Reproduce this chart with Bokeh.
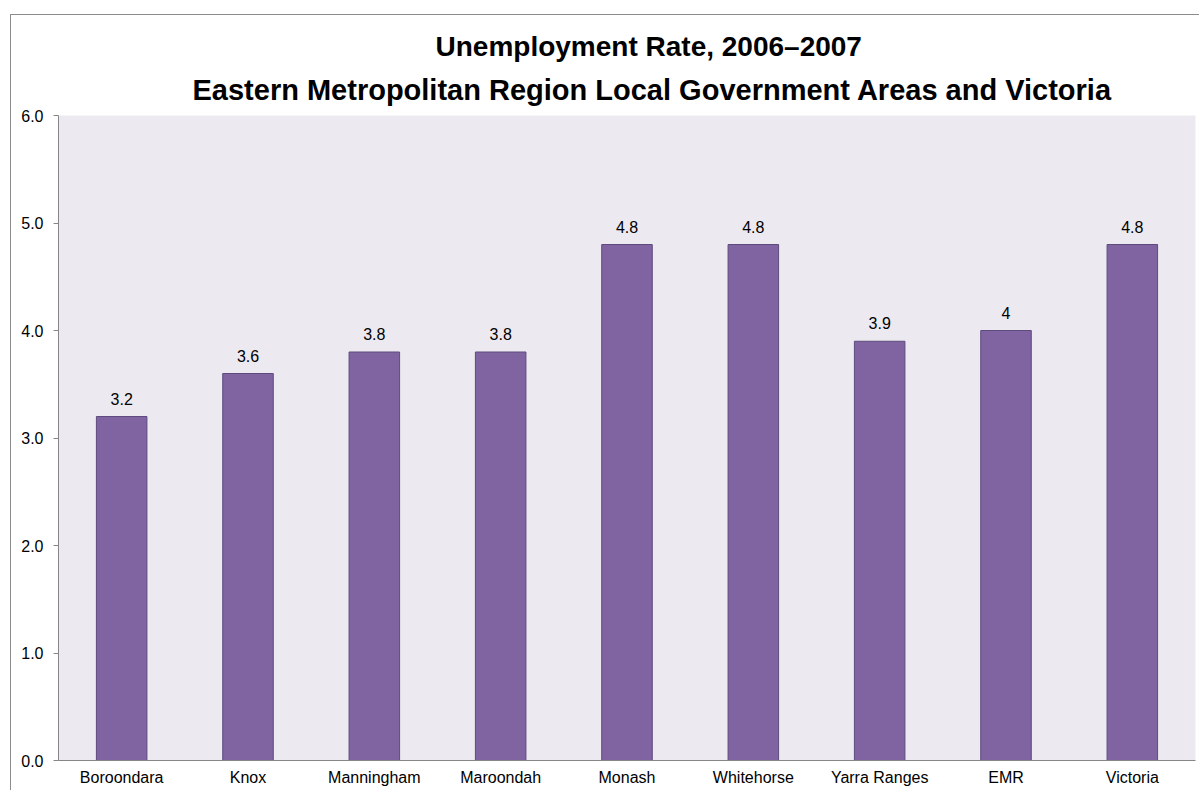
from bokeh.plotting import figure
from bokeh.models import (ColumnDataSource, Title, FixedTicker,
                          NumeralTickFormatter, Range1d)
from bokeh.core.properties import value
from bokeh.embed import file_html
from bokeh.resources import INLINE

categories = ["Boroondara", "Knox", "Manningham", "Maroondah", "Monash",
              "Whitehorse", "Yarra Ranges", "EMR", "Victoria"]
rates = [3.2, 3.6, 3.8, 3.8, 4.8, 4.8, 3.9, 4.0, 4.8]
rate_labels = ["3.2", "3.6", "3.8", "3.8", "4.8", "4.8", "3.9", "4", "4.8"]
y_ticks = [0, 1, 2, 3, 4, 5, 6]
title_line1 = "Unemployment Rate, 2006\u20132007"
title_line2 = "Eastern Metropolitan Region Local Government Areas and Victoria"

FONT = "Liberation Sans"

src = ColumnDataSource(dict(cat=categories, rate=rates, lab=rate_labels))

p = figure(x_range=categories, y_range=Range1d(0, 6),
           width=1189, height=776, output_backend="svg",
           toolbar_location=None,
           min_border_left=47, min_border_right=5,
           min_border_top=100, min_border_bottom=31)

p.styles = {"margin-left": "10px", "margin-top": "14px",
            "border-left": "1px solid #8C8C8C",
            "border-top": "1px solid #8C8C8C"}

p.background_fill_color = "#ECEAF0"
p.border_fill_color = "white"
p.outline_line_color = None
p.grid.grid_line_color = None

p.vbar(x="cat", top="rate", width=0.4, source=src,
       fill_color="#8064A2", line_color="#5E4B7D", line_width=1)

p.text(x="cat", y="rate", text="lab", source=src,
       text_align="center", text_baseline="alphabetic", y_offset=-18,
       text_font=value(FONT), text_font_size="16px", text_color="#000000")

# axes
p.yaxis.ticker = FixedTicker(ticks=y_ticks)
p.yaxis.formatter = NumeralTickFormatter(format="0.0")
p.yaxis.axis_line_color = "#868686"
p.yaxis.major_tick_line_color = "#868686"
p.yaxis.major_tick_out = 5
p.yaxis.major_tick_in = 0
p.yaxis.minor_tick_line_color = None
p.yaxis.major_label_standoff = 10
p.yaxis.major_label_text_font = FONT
p.yaxis.major_label_text_font_size = "16px"
p.yaxis.major_label_text_color = "#000000"

p.xaxis.axis_line_color = "#868686"
p.xaxis.major_tick_line_color = None
p.xaxis.major_tick_out = 0
p.xaxis.major_tick_in = 0
p.xaxis.minor_tick_line_color = None
p.xaxis.major_label_standoff = 8
p.xaxis.major_label_text_font = FONT
p.xaxis.major_label_text_font_size = "16px"
p.xaxis.major_label_text_color = "#000000"

# two-line title (closest to the frame is added first)
p.add_layout(Title(text=title_line2, align="left", offset=134, standoff=19,
                   text_font=FONT, text_font_size="29px",
                   text_font_style="bold", text_color="#000000"), "above")
p.add_layout(Title(text=title_line1, align="left", offset=377, standoff=2,
                   text_font=FONT, text_font_size="28px",
                   text_font_style="bold", text_color="#000000"), "above")

open("out.html", "w").write(file_html(p, INLINE))
